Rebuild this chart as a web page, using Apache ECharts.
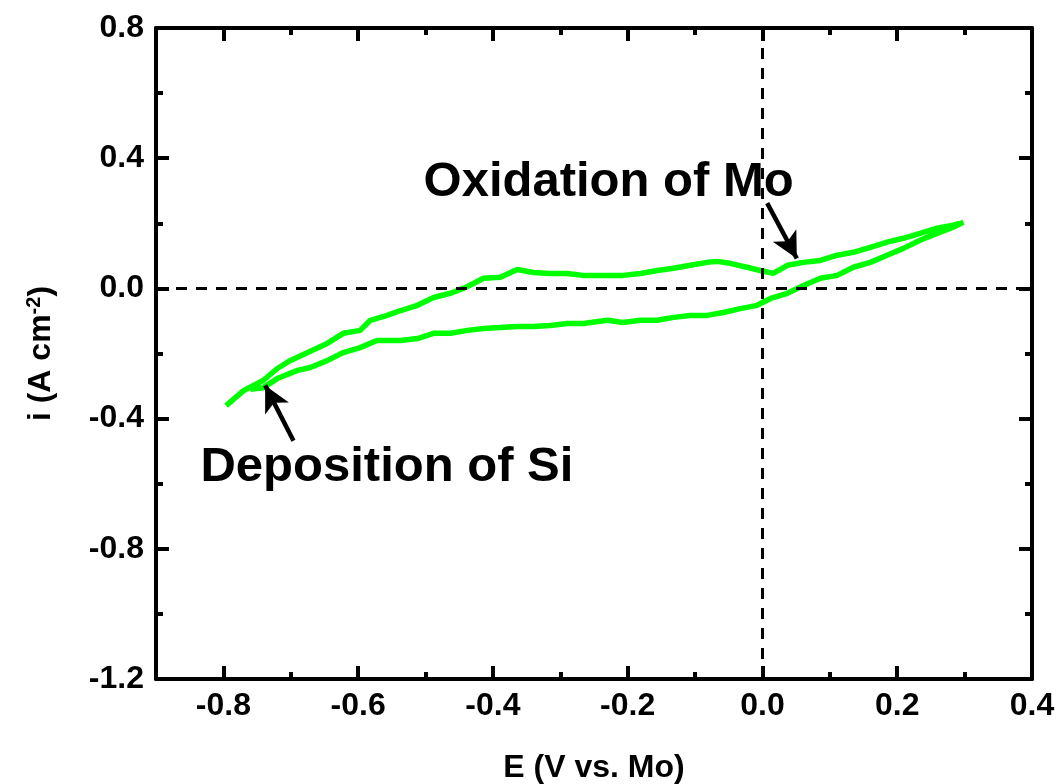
<!DOCTYPE html>
<html>
<head>
<meta charset="utf-8">
<script src="https://cdn.jsdelivr.net/npm/echarts@6/dist/echarts.min.js"></script>
<style>
  html, body { margin: 0; padding: 0; background: #fff; }
  #chart { width: 1061px; height: 784px; }
</style>
</head>
<body>
<div id="chart"></div>
<script>
// potential sweep, forward branch (E in V vs. Mo, i in A cm-2)
var forwardE = [-0.796, -0.770, -0.741, -0.720, -0.701, -0.675, -0.646, -0.622, -0.597, -0.582,
  -0.557, -0.537, -0.512, -0.488, -0.463, -0.444, -0.429, -0.414, -0.389, -0.364,
  -0.340, -0.315, -0.290, -0.266, -0.241, -0.207, -0.181, -0.156, -0.132, -0.107,
  -0.082, -0.067, -0.048, -0.023, -0.003, 0.016, 0.037, 0.061, 0.086, 0.111,
  0.135, 0.160, 0.185, 0.209, 0.234, 0.259, 0.283, 0.298];
var forwardI = [-0.360, -0.314, -0.283, -0.246, -0.222, -0.197, -0.169, -0.138, -0.129, -0.098,
  -0.083, -0.068, -0.052, -0.028, -0.015, 0.000, 0.015, 0.031, 0.034, 0.058,
  0.049, 0.046, 0.046, 0.040, 0.040, 0.040, 0.046, 0.055, 0.062, 0.071,
  0.080, 0.083, 0.077, 0.065, 0.055, 0.046, 0.071, 0.080, 0.086, 0.102,
  0.111, 0.126, 0.142, 0.154, 0.169, 0.185, 0.194, 0.203];

// reverse branch
var reverseE = [0.298, 0.283, 0.259, 0.234, 0.209, 0.185, 0.160, 0.135, 0.111, 0.086,
  0.061, 0.037, 0.012, -0.008, -0.033, -0.058, -0.082, -0.107, -0.132, -0.156,
  -0.181, -0.207, -0.230, -0.266, -0.290, -0.315, -0.340, -0.364, -0.389, -0.414,
  -0.438, -0.463, -0.488, -0.512, -0.537, -0.572, -0.597, -0.622, -0.646, -0.671,
  -0.690, -0.720, -0.741, -0.760];
var reverseI = [0.200, 0.188, 0.169, 0.148, 0.123, 0.102, 0.080, 0.065, 0.040, 0.031,
  0.009, -0.015, -0.031, -0.052, -0.062, -0.074, -0.083, -0.083, -0.089, -0.098,
  -0.098, -0.105, -0.098, -0.108, -0.108, -0.114, -0.117, -0.117, -0.120, -0.123,
  -0.129, -0.138, -0.138, -0.154, -0.160, -0.160, -0.182, -0.197, -0.222, -0.243,
  -0.252, -0.277, -0.305, -0.310];

var xMajor = [-0.8, -0.6, -0.4, -0.2, 0, 0.2, 0.4];
var xMinor = [-0.7, -0.5, -0.3, -0.1, 0.1, 0.3];
var yMajor = [-1.2, -0.8, -0.4, 0, 0.4, 0.8];
var yMinor = [-1.0, -0.6, -0.2, 0.2, 0.6];

var notes = [
  { text: 'Oxidation of Mo', at: [-0.503, 0.326], tail: [0.007, 0.262], tip: [0.051, 0.092] },
  { text: 'Deposition of Si', at: [-0.834, -0.551], tail: [-0.696, -0.468], tip: [-0.738, -0.298] }
];

var loop = [];
for (var i = 0; i < forwardE.length; i++) loop.push([forwardE[i], forwardI[i]]);
for (var j = 0; j < reverseE.length; j++) loop.push([reverseE[j], reverseI[j]]);

var FONT = '"Liberation Sans", Arial, sans-serif';
var fmt = function (v) { return Math.abs(v) < 1e-9 ? '0.0' : v.toFixed(1); };

function xAx(pos, ticks, len, main) {
  return {
    type: 'value', position: pos, min: -0.9, max: 0.4,
    axisLine: { show: main !== false, onZero: false, lineStyle: { color: '#000', width: 4 } },
    axisTick: { show: true, inside: true, length: len, customValues: ticks,
      lineStyle: { color: '#000', width: 4 } },
    axisLabel: main === 'label' ? {
      customValues: xMajor, formatter: fmt, margin: 11,
      color: '#000', fontFamily: FONT, fontWeight: 'bold', fontSize: 32
    } : { show: false },
    splitLine: { show: false }
  };
}
function yAx(pos, ticks, len, main) {
  return {
    type: 'value', position: pos, min: -1.2, max: 0.8,
    axisLine: { show: main !== false, onZero: false, lineStyle: { color: '#000', width: 4 } },
    axisTick: { show: true, inside: true, length: len, customValues: ticks,
      lineStyle: { color: '#000', width: 4 } },
    axisLabel: main === 'label' ? {
      customValues: yMajor, formatter: fmt, margin: 12,
      color: '#000', fontFamily: FONT, fontWeight: 'bold', fontSize: 32
    } : { show: false },
    splitLine: { show: false }
  };
}

var xAxes = [xAx('bottom', xMajor, 13, 'label'), xAx('bottom', xMinor, 7, false),
  xAx('top', xMajor, 13, true), xAx('top', xMinor, 7, false)];
xAxes[0].name = 'E (V vs. Mo)';
xAxes[0].nameLocation = 'middle';
xAxes[0].nameGap = 73;
xAxes[0].nameTextStyle = { color: '#000', fontFamily: FONT, fontWeight: 'bold', fontSize: 32 };

var yAxes = [yAx('left', yMajor, 13, 'label'), yAx('left', yMinor, 7, false),
  yAx('right', yMajor, 13, true), yAx('right', yMinor, 7, false)];
yAxes[0].name = 'i (A cm{sup|-2})';
yAxes[0].nameLocation = 'middle';
yAxes[0].nameRotate = 90;
yAxes[0].nameGap = 98;
yAxes[0].nameTextStyle = { color: '#000', fontFamily: FONT, fontWeight: 'bold', fontSize: 32,
  rich: { sup: { fontFamily: FONT, fontWeight: 'bold', fontSize: 20, verticalAlign: 'top', padding: [0, 0, 14, 0] } } };

var arrowData = notes.map(function (n) {
  return [{ coord: n.tail }, { coord: n.tip }];
});

var myChart = echarts.init(document.getElementById('chart'));
var option = {
  animation: false,
  grid: { left: 156, right: 29, top: 28, bottom: 105, containLabel: false, outerBoundsMode: 'none' },
  xAxis: xAxes,
  yAxis: yAxes,
  series: [
    {
      name: 'zero', type: 'line', data: [], silent: true,
      markLine: {
        silent: true, symbol: ['none', 'none'], label: { show: false },
        lineStyle: { color: '#000', width: 3, type: [11, 9] },
        data: [{ xAxis: 0 }, { yAxis: 0 }]
      }
    },
    {
      name: 'CV', type: 'line', data: loop, showSymbol: false, symbol: 'none',
      lineStyle: { color: '#00ff00', width: 5.5 }, z: 3
    },
    {
      name: 'arrows', type: 'line', data: [], silent: true, z: 4,
      markLine: {
        silent: true, symbol: ['none', 'arrow'], symbolSize: [20, 26],
        label: { show: false },
        lineStyle: { color: '#000', width: 4.5, type: 'solid' },
        data: arrowData
      }
    }
  ]
};
myChart.setOption(option);

// annotation texts anchored in data coordinates
var texts = notes.map(function (n) {
  var p = myChart.convertToPixel({ gridIndex: 0 }, n.at);
  return {
    type: 'text', x: p[0], y: p[1],
    style: { text: n.text, fill: '#000', font: 'bold 49px ' + FONT, textVerticalAlign: 'middle' }
  };
});
myChart.setOption({ graphic: texts });
</script>
</body>
</html>
